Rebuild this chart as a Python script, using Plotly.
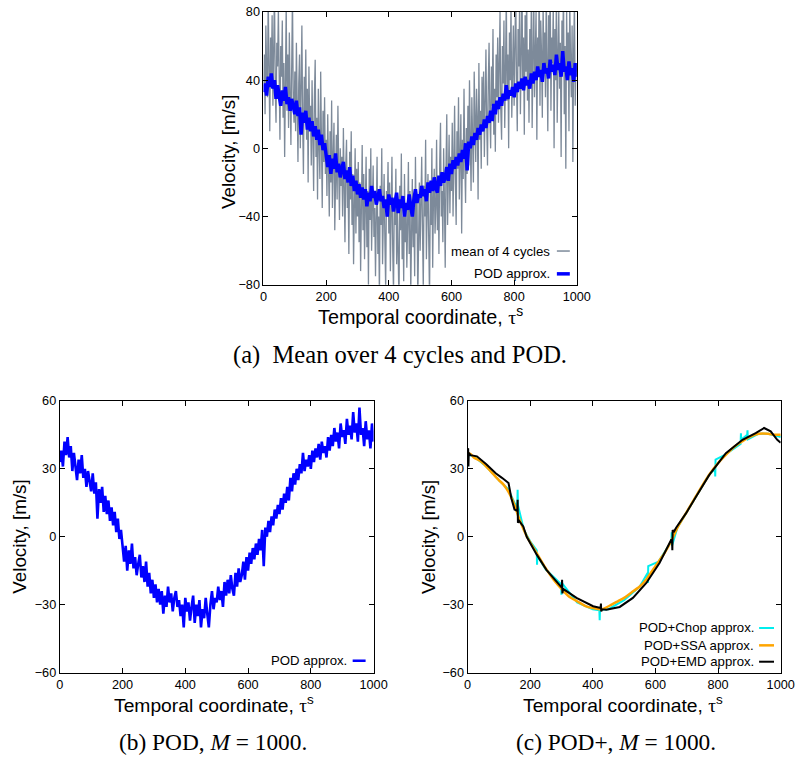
import plotly.graph_objects as go

# ---------------- DATA ----------------
t_step5 = list(range(0, 1001, 5))
t_step25 = [i * 2.5 for i in range(401)]

pod_approx = [33, 38, 31, 42, 36, 44, 35, 40, 29, 37, 31, 25, 34, 28, 36, 26, 30, 22, 29, 24,
              20, 28, 19, 24, 8, 21, 15, 22, 11, 18, 10, 16, 7, 13, 5, 11, 2, 8, -1, 3,
              -6, -11, -4, -15, -6, -12, -3, -14, -9, -17, -12, -8, -18, -13, -20, -11, -22, -16, -25, -19,
              -27, -21, -29, -23, -30, -24, -34, -26, -31, -22, -29, -25, -33, -27, -24, -31, -28, -35, -30, -40,
              -27, -33, -29, -37, -31, -26, -38, -30, -35, -28, -40, -32, -36, -27, -34, -40, -30, -24, -32, -27,
              -29, -22, -28, -24, -31, -20, -26, -19, -25, -17, -23, -26, -16, -22, -14, -20, -17, -11, -19, -9,
              -15, -7, -12, -5, -10, -3, -8, -1, -6, 3, -13, 4, 0, 7, 2, 9, 5, 12, 8, 14,
              10, 17, 12, 19, 15, 22, 16, 26, 20, 28, 23, 30, 25, 32, 28, 37, 29, 34, 31, 36,
              30, 38, 33, 39, 35, 41, 34, 42, 37, 40, 35, 44, 38, 45, 40, 48, 42, 46, 39, 50,
              44, 47, 41, 52, 45, 49, 43, 55, 46, 50, 42, 57, 45, 48, 40, 51, 43, 47, 39, 50,
              42]

mean_4_cycles = [38, 55, 20, 72, 45, 30, 88, 52, 10, 65, 40, 78, 25, 58, 95, 35, 15, 62, 48, 82,
                 30, 5, 60, 42, 75, 18, 50, -5, 38, 85, 22, 55, 12, 68, 33, 2, 48, 90, 28, 15,
                 45, 10, 62, 25, -8, 38, 55, 0, 30, 72, 15, -15, 42, 20, 58, 5, 35, -20, 48, 12,
                 25, -10, 40, 8, -25, 30, 52, -5, 18, -30, 35, 2, -18, 45, 10, -35, 22, -8, 30, -15,
                 5, -28, 20, -12, -40, 10, -20, 28, -35, -5, 15, -48, -15, 8, -30, 25, -10, -42, 0, -22,
                 -5, -40, 12, -25, -55, -10, 5, -35, -20, -62, -2, -30, 10, -45, -15, -68, -28, 0, -50, -12,
                 -40, -8, -55, -20, -72, -30, 2, -48, -15, -65, -35, -5, -58, -25, -80, -12, -42, 0, -60, -30,
                 -10, -52, -35, -75, -18, -5, -62, -40, -88, -22, -45, 0, -68, -30, -15, -55, -82, -25, -40, -8,
                 -50, -20, -72, -38, -5, -60, -85, -30, -45, -12, -68, -35, -55, -92, -22, -48, -3, -65, -40, -78,
                 -15, -55, -32, -70, -45, -8, -62, -25, -85, -40, -18, -58, -35, -75, -5, -50, -28, -90, -42, -20,
                 -60, -30, -5, -48, -82, -22, -40, 5, -65, -35, -15, -55, -88, -25, -45, 0, -70, -30, -12, -50,
                 -35, 5, -48, -20, -62, -8, 15, -40, -25, -55, 0, -30, -70, -12, 20, -45, -18, 8, -38, -5,
                 -25, 15, -40, 0, 25, -20, -45, 10, -12, 30, -30, -5, 20, -50, 5, -18, 35, -8, -32, 12,
                 -15, 25, -10, 40, 0, -25, 30, 12, -20, 45, 8, -8, 35, 18, -30, 50, 5, 22, -12, 42,
                 10, 45, -5, 30, 58, 15, -10, 38, 62, 20, 0, 48, 25, 70, 8, 35, -2, 55, 30, 65,
                 15, 50, 80, 22, 5, 60, 38, 75, 12, 45, 90, 28, 55, 0, 68, 40, 85, 18, 50, 72,
                 25, 62, 95, 40, 10, 70, 48, 85, 20, 55, 100, 35, 65, 8, 78, 45, 92, 28, 58, 15,
                 70, 38, 88, 12, 60, 95, 30, 52, 80, 5, 65, 42, 100, 25, 75, 55, 18, 85, 48, 68,
                 30, 90, 60, 10, 78, 45, 98, 22, 65, 50, 85, 0, 70, 40, 92, 15, 55, 80, 35, 62,
                 -5, 75, 48, 95, 20, 60, -12, 82, 40, 68, 10, 88, 52, 30, 72, -8, 58, 85, 25, 50,
                 45]

chop_t = [0, 1, 3, 20, 60, 100, 130, 150, 159, 160, 161, 180, 200, 221, 222, 223, 250, 299, 300, 301,
          350, 400, 421, 422, 423, 450, 500, 550, 575, 576, 577, 610, 651, 652, 653, 670, 700, 730, 770, 790,
          791, 792, 820, 872, 873, 874, 893, 894, 895, 930, 960, 1000]
chop_v = [31, 37, 36, 35.5, 31, 25, 21, 15, 13, 20.7, 14, 3, -2, -6, -12.4, -8.5, -14.5, -21, -25.6, -20.4,
          -29, -32, -32.5, -36.9, -32.2, -32, -28, -22, -16, -20.4, -13, -11, -2, 2, -4, 4, 11, 18, 27, 30,
          26.6, 34, 36, 41, 45.7, 42.8, 45, 47, 43, 45.5, 45.5, 44]

ssa_t = [0, 10, 20, 40, 60, 80, 100, 115, 130, 150, 165, 190, 220, 250, 275, 300, 325, 350, 375, 400,
         430, 460, 480, 500, 530, 550, 570, 590, 610, 630, 650, 670, 700, 730, 770, 800, 820, 850, 870,
         900, 930, 960, 980, 1000]
ssa_v = [37, 36.5, 35, 33.5, 31, 28, 25, 23, 20, 14, 8, 0, -7, -14, -19, -23, -26.5, -28.5, -30.5, -31.5,
         -32, -30, -28.5, -27, -24, -22, -19, -15, -11, -7, -2, 4, 11, 18, 27, 32.5, 35.5, 39.5, 41.5,
         44, 45.5, 45.5, 45, 45]

emd_t = [0, 2, 3, 4, 10, 30, 60, 90, 110, 131, 140, 150, 158, 159, 160, 161, 165, 178, 189, 204,
         221, 252, 295, 301, 302, 303, 305, 348, 401, 425, 426, 427, 430, 443, 486, 528, 571, 613, 650, 653,
         654, 655, 658, 666, 698, 730, 772, 825, 878, 920, 947, 968, 989, 1000]
emd_v = [38, 39, 31, 37, 36, 35.5, 32, 28, 26, 23.7, 17, 12, 11.5, 11.5, 16.3, 6.2, 7, 4.5, 0, -4,
         -7.9, -14.6, -21.5, -22.5, -19, -25, -23, -27, -30.7, -31.5, -29.5, -33, -32, -32.2, -31, -27, -20.4, -11.6, -1.5, -1.5,
         -6, 3, 2, 4, 10.4, 17.8, 27.3, 36.9, 42.8, 45.7, 48, 46.5, 42.8, 41.5]

x_ticks = [0, 200, 400, 600, 800, 1000]
y_ticks_a = [-80, -40, 0, 40, 80]
y_ticks_bc = [-60, -30, 0, 30, 60]

# ---------------- LAYOUT HELPERS ----------------
W, H = 801, 760
# the page is photographed slightly shrunk; compensate so positions land where intended
SX, OX = 0.9813, 2.0
SY, OY = 0.9895, 4.0


def px(x):
    return ((x - OX) / SX) / W


def py(y):
    return 1 - ((y - OY) / SY) / H


def fs(s):
    return s / 0.985


C_BLUE = "#0000ff"
C_GRAY = "#7d8a9a"
C_CYAN = "#00eeee"
C_ORANGE = "#ffa500"
SANS = "Liberation Sans, Arial, sans-serif"
SERIF = "Liberation Serif, Times New Roman, serif"

fig = go.Figure()

fig.add_trace(go.Scatter(x=t_step25, y=mean_4_cycles, mode="lines", name="mean of 4 cycles",
                         line=dict(color=C_GRAY, width=1.3), xaxis="x", yaxis="y"))
fig.add_trace(go.Scatter(x=t_step5, y=pod_approx, mode="lines", name="POD approx.",
                         line=dict(color=C_BLUE, width=3.5), xaxis="x", yaxis="y"))
fig.add_trace(go.Scatter(x=t_step5, y=pod_approx, mode="lines", name="POD approx.",
                         line=dict(color=C_BLUE, width=2.6), xaxis="x2", yaxis="y2"))
fig.add_trace(go.Scatter(x=chop_t, y=chop_v, mode="lines", name="POD+Chop approx.",
                         line=dict(color=C_CYAN, width=2), xaxis="x3", yaxis="y3"))
fig.add_trace(go.Scatter(x=ssa_t, y=ssa_v, mode="lines", name="POD+SSA approx.",
                         line=dict(color=C_ORANGE, width=2.5, shape="spline", smoothing=0.6),
                         xaxis="x3", yaxis="y3"))
fig.add_trace(go.Scatter(x=emd_t, y=emd_v, mode="lines", name="POD+EMD approx.",
                         line=dict(color="black", width=2), xaxis="x3", yaxis="y3"))

axis_common = dict(showline=True, linecolor="black", linewidth=1, mirror="ticks",
                   ticks="inside", ticklen=5, tickwidth=1, tickcolor="black",
                   showgrid=False, zeroline=False,
                   tickfont=dict(family=SANS, size=fs(12.5), color="black"))

fig.update_layout(
    width=W, height=H, margin=dict(l=0, r=0, t=0, b=0),
    paper_bgcolor="white", plot_bgcolor="white", showlegend=False,
    xaxis=dict(domain=[px(262.5), px(577)], range=[0, 1000], tickvals=x_ticks, anchor="y", **axis_common),
    yaxis=dict(domain=[py(284), py(9)], range=[-80, 80], tickvals=y_ticks_a, anchor="x", **axis_common),
    xaxis2=dict(domain=[px(58), px(373)], range=[0, 1000], tickvals=x_ticks, anchor="y2", **axis_common),
    yaxis2=dict(domain=[py(675), py(401)], range=[-60, 60], tickvals=y_ticks_bc, anchor="x2", **axis_common),
    xaxis3=dict(domain=[px(467.3), px(781.7)], range=[0, 1000], tickvals=x_ticks, anchor="y3", **axis_common),
    yaxis3=dict(domain=[py(675), py(401)], range=[-60, 60], tickvals=y_ticks_bc, anchor="x3", **axis_common),
)

annotations = []
shapes = []


def text(x, y, s, size, family=SANS, xanchor="center", yanchor="middle", angle=0):
    annotations.append(dict(x=px(x), y=py(y), xref="paper", yref="paper", text=s, showarrow=False,
                            xanchor=xanchor, yanchor=yanchor, textangle=angle,
                            font=dict(family=family, size=fs(size), color="black")))


def legend_entry(x_text_right, y, label, color, width, x0, x1):
    text(x_text_right, y, label, 13, xanchor="right")
    shapes.append(dict(type="line", xref="paper", yref="paper", x0=px(x0), x1=px(x1),
                       y0=py(y), y1=py(y), line=dict(color=color, width=width)))


TAU = "Temporal coordinate, <span style='font-family:Liberation Serif'>τ</span><sup>s</sup>"

text(228, 150, "Velocity, [m/s]", 18.5, angle=-90)
text(420, 315, TAU, 19.5)
text(18, 538, "Velocity, [m/s]", 18.5, angle=-90)
text(213, 707, TAU, 19)
text(428, 538, "Velocity, [m/s]", 18.5, angle=-90)
text(623, 707, TAU, 19)

text(400, 355, "(a)\u00a0\u00a0Mean over 4 cycles and POD.", 24.2, family=SERIF)
text(212, 745, "(b) POD, <i>M</i> = 1000.", 23, family=SERIF)
text(616, 745, "(c) POD+, <i>M</i> = 1000.", 23, family=SERIF)

legend_entry(552, 250, "mean of 4 cycles", C_GRAY, 1.5, 557, 570)
legend_entry(552, 273, "POD approx.", C_BLUE, 3.5, 557, 570)
legend_entry(348, 663, "POD approx.", C_BLUE, 2.5, 352, 365)
legend_entry(757, 630, "POD+Chop approx.", C_CYAN, 2, 760, 775)
legend_entry(757, 647.5, "POD+SSA approx.", C_ORANGE, 2.5, 760, 775)
legend_entry(757, 664, "POD+EMD approx.", "black", 2, 760, 775)

fig.update_layout(annotations=annotations, shapes=shapes)

fig.write_html("out.html")
